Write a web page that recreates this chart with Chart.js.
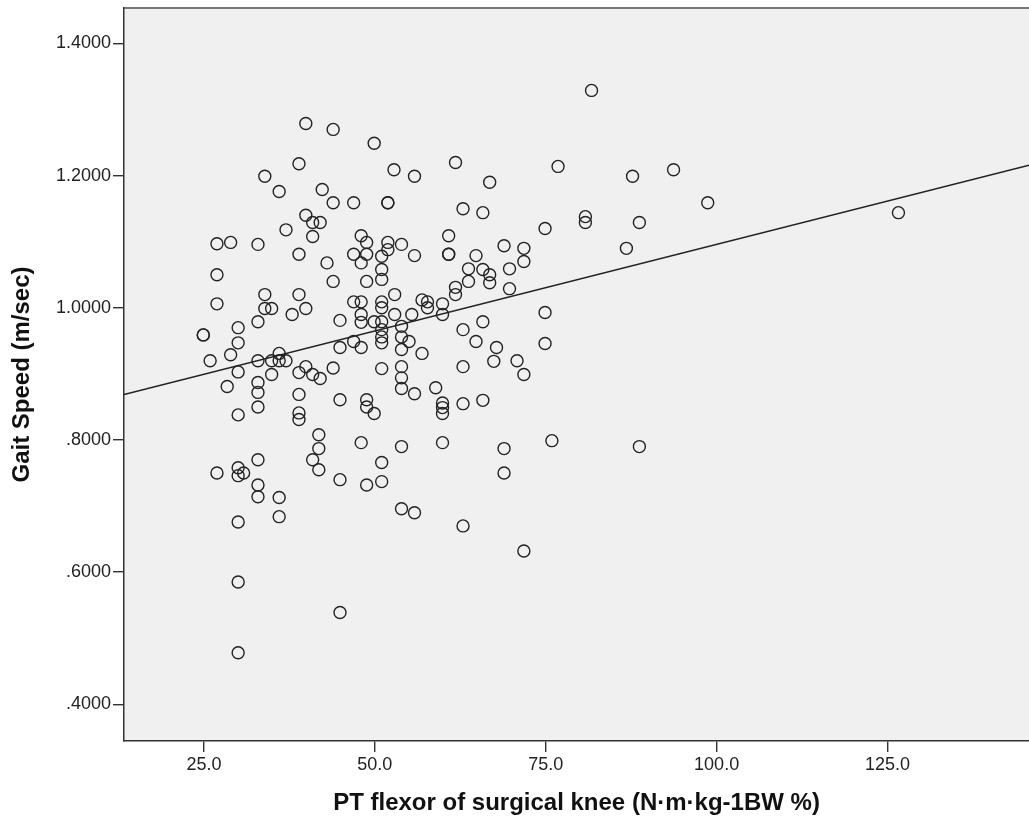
<!DOCTYPE html>
<html>
<head>
<meta charset="utf-8">
<title>Gait Speed vs PT flexor</title>
<script src="https://cdn.jsdelivr.net/npm/chart.js@4.4.1/dist/chart.umd.min.js"></script>
<style>
  html, body { margin: 0; padding: 0; background: #fff; }
  #wrap { width: 1029px; height: 826px; }
</style>
</head>
<body>
<div id="wrap"><canvas id="scatter" width="1029" height="826"></canvas></div>
<script>
// PT flexor of surgical knee (x) and gait speed (y)
const ptFlexor = [
  39.9, 43.9, 49.9, 38.9, 33.9, 36.0, 42.3, 43.9, 46.9, 39.9,
  40.9, 42.0, 37.0, 40.9, 48.0, 48.8, 26.9, 28.9, 32.9, 38.9,
  43.0, 46.9, 48.0, 48.8, 26.9, 43.9, 48.8, 26.9, 33.9, 38.9,
  33.9, 34.9, 37.9, 39.9, 32.9, 44.9, 46.9, 48.0, 48.0, 48.0,
  49.9, 24.9, 24.9, 30.0, 30.0, 28.9, 25.9, 32.9, 36.0, 36.0,
  34.9, 37.0, 30.0, 34.9, 38.9, 39.9, 40.9, 42.0, 43.9, 44.9,
  46.9, 48.0, 28.4, 32.9, 32.9, 32.9, 38.9, 38.9, 38.9, 44.9,
  48.8, 48.8, 49.9, 30.0, 41.8, 41.8, 40.9, 41.8, 48.0, 32.9,
  30.0, 26.9, 30.0, 30.8, 32.9, 44.9, 48.8, 32.9, 36.0, 36.0,
  30.0, 30.0, 44.9, 30.0, 52.8, 55.8, 61.8, 76.8, 66.8, 51.9,
  51.9, 62.9, 65.8, 74.9, 60.8, 68.9, 71.8, 71.8, 60.8, 60.8,
  64.8, 55.8, 53.9, 51.9, 51.9, 51.0, 51.0, 51.0, 63.7, 65.8,
  66.8, 66.8, 63.7, 69.7, 69.7, 61.8, 61.8, 52.9, 51.0, 51.0,
  56.9, 57.7, 57.7, 59.9, 59.9, 55.4, 52.9, 51.0, 51.0, 51.0,
  51.0, 53.9, 53.9, 53.9, 55.0, 56.9, 74.9, 62.9, 65.8, 64.8,
  67.8, 67.4, 70.8, 71.8, 74.9, 62.9, 51.0, 53.9, 53.9, 53.9,
  55.8, 58.9, 59.9, 59.9, 59.9, 62.9, 65.8, 53.9, 59.9, 68.9,
  75.9, 68.9, 51.0, 51.0, 53.9, 55.8, 62.9, 71.8, 81.7, 87.7,
  93.7, 98.7, 80.8, 80.8, 88.7, 86.8, 126.6, 88.7
];
const gaitSpeed = [
  1.279, 1.270, 1.249, 1.218, 1.199, 1.176, 1.179, 1.159, 1.159, 1.140,
  1.129, 1.129, 1.118, 1.108, 1.109, 1.099, 1.097, 1.099, 1.096, 1.081,
  1.068, 1.081, 1.068, 1.081, 1.050, 1.040, 1.040, 1.006, 1.020, 1.020,
  0.999, 0.999, 0.990, 0.999, 0.979, 0.981, 1.009, 1.009, 0.990, 0.978,
  0.979, 0.959, 0.959, 0.970, 0.947, 0.929, 0.920, 0.920, 0.931, 0.920,
  0.920, 0.920, 0.903, 0.899, 0.902, 0.911, 0.899, 0.893, 0.909, 0.940,
  0.949, 0.940, 0.881, 0.887, 0.872, 0.850, 0.869, 0.841, 0.831, 0.861,
  0.861, 0.850, 0.840, 0.838, 0.808, 0.787, 0.770, 0.755, 0.796, 0.770,
  0.758, 0.750, 0.746, 0.750, 0.732, 0.740, 0.732, 0.714, 0.713, 0.684,
  0.676, 0.585, 0.539, 0.478, 1.209, 1.199, 1.220, 1.214, 1.190, 1.159,
  1.159, 1.150, 1.144, 1.120, 1.109, 1.094, 1.090, 1.070, 1.081, 1.081,
  1.079, 1.079, 1.096, 1.099, 1.088, 1.078, 1.058, 1.043, 1.059, 1.058,
  1.050, 1.038, 1.040, 1.059, 1.029, 1.031, 1.020, 1.020, 1.009, 1.000,
  1.012, 1.009, 1.000, 1.006, 0.990, 0.990, 0.990, 0.979, 0.967, 0.956,
  0.947, 0.972, 0.956, 0.937, 0.949, 0.931, 0.993, 0.967, 0.979, 0.949,
  0.940, 0.919, 0.920, 0.899, 0.946, 0.911, 0.908, 0.911, 0.894, 0.878,
  0.870, 0.879, 0.856, 0.849, 0.840, 0.855, 0.860, 0.790, 0.796, 0.787,
  0.799, 0.750, 0.766, 0.737, 0.696, 0.690, 0.670, 0.632, 1.329, 1.199,
  1.209, 1.159, 1.138, 1.129, 1.129, 1.090, 1.144, 0.790
];

// axis ticks and ranges
const xTicks = [25, 50, 75, 100, 125];
const yTicks = [0.4, 0.6, 0.8, 1.0, 1.2, 1.4];
const X_MIN  = 13.3;
const X_MAX  = 145.7;
const Y_MIN  = 0.3445;
const Y_MAX  = 1.4537;

// fit line (linear regression)
const fitIntercept = 0.834;
const fitSlope     = 0.00262;

const TICK_FONT  = { family: '"Liberation Sans", Arial, sans-serif', size: 18 };
const TITLE_FONT = { family: '"Liberation Sans", Arial, sans-serif', size: 24, weight: 'bold' };
const INK        = '#222';

const points  = ptFlexor.map((x, i) => ({ x, y: gaitSpeed[i] }));
const fitLine = [X_MIN, X_MAX].map(x => ({ x, y: fitIntercept + fitSlope * x }));

// grey plot area + thin top frame line, like the SPSS output
const plotFrame = {
  id: 'plotFrame',
  beforeDraw(chart) {
    const { ctx, chartArea: a } = chart;
    ctx.save();
    ctx.fillStyle = '#f0f0f0';
    ctx.fillRect(a.left, a.top, a.right - a.left, a.bottom - a.top);
    ctx.strokeStyle = '#777';
    ctx.lineWidth = 2;
    ctx.beginPath();
    ctx.moveTo(a.left, a.top);
    ctx.lineTo(a.right, a.top);
    ctx.stroke();
    ctx.restore();
  }
};

new Chart(document.getElementById('scatter'), {
  type: 'scatter',
  data: {
    datasets: [
      {
        data: fitLine,
        showLine: true,
        borderColor: INK,
        borderWidth: 1.4,
        pointRadius: 0,
        fill: false
      },
      {
        data: points,
        pointRadius: 6,
        pointBorderWidth: 1.4,
        pointBorderColor: INK,
        pointBackgroundColor: 'rgba(0,0,0,0)'
      }
    ]
  },
  options: {
    responsive: false,
    animation: false,
    devicePixelRatio: 1,
    events: [],
    // no auto padding for the markers: the plot runs off the right edge like the original
    layout: { autoPadding: false, padding: { top: 8, right: 0, bottom: 0, left: 0 } },
    plugins: { legend: { display: false }, tooltip: { enabled: false } },
    scales: {
      x: {
        type: 'linear',
        min: X_MIN,
        max: X_MAX,
        afterBuildTicks: s => { s.ticks = xTicks.map(v => ({ value: v })); },
        afterFit: s => { s.height = 85; s.paddingLeft = 0; s.paddingRight = 0; },
        ticks: {
          font: TICK_FONT, color: INK, padding: 2,
          maxRotation: 0, autoSkip: false,
          callback: v => Number(v).toFixed(1)
        },
        grid: { drawOnChartArea: false, drawTicks: true, tickLength: 11, color: '#333', lineWidth: 1.4 },
        border: { display: true, color: '#333', width: 1.5 },
        title: {
          display: true,
          text: 'PT flexor of surgical knee (N·m·kg-1BW %)',
          font: TITLE_FONT, color: '#111',
          padding: { top: 0, bottom: 8 }
        }
      },
      y: {
        type: 'linear',
        min: Y_MIN,
        max: Y_MAX,
        afterBuildTicks: s => { s.ticks = yTicks.map(v => ({ value: v })); },
        afterFit: s => { s.width = 124; s.paddingTop = 0; s.paddingBottom = 0; },
        ticks: {
          font: TICK_FONT, color: INK, padding: 2,
          callback: v => Number(v).toFixed(4).replace(/^0/, '')
        },
        grid: { drawOnChartArea: false, drawTicks: true, tickLength: 11, color: '#333', lineWidth: 1.4 },
        border: { display: true, color: '#333', width: 1.5 },
        title: {
          display: true,
          text: 'Gait Speed (m/sec)',
          font: TITLE_FONT, color: '#111',
          padding: { top: 8, bottom: 0 }
        }
      }
    }
  },
  plugins: [plotFrame]
});
</script>
</body>
</html>
